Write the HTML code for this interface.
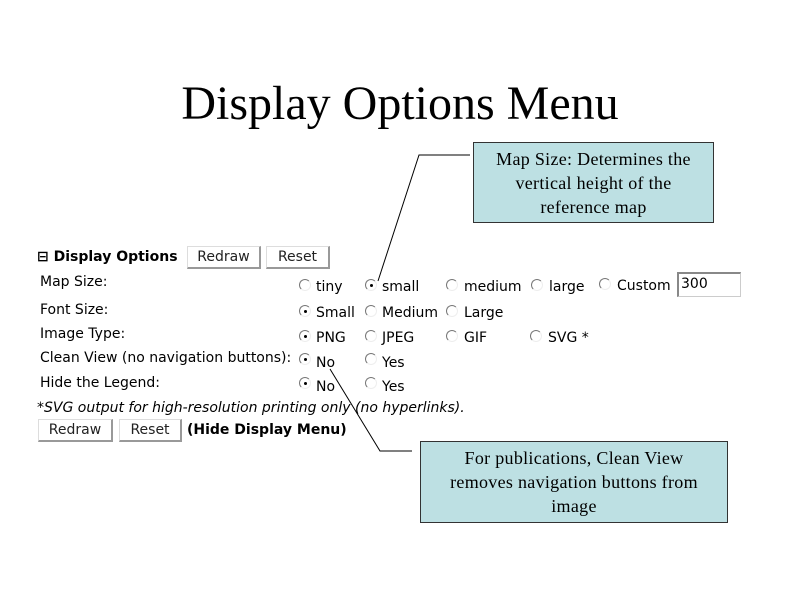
<!DOCTYPE html>
<html><head><meta charset="utf-8"><style>
body{margin:0;width:800px;height:600px;background:#fff;position:relative;overflow:hidden;font-family:"DejaVu Sans","Liberation Sans",sans-serif;font-size:14px;color:#000}
.a{position:absolute;white-space:nowrap;line-height:16px}
.t{position:absolute;left:0;width:800px;top:77px;text-align:center;font-family:"Liberation Serif",serif;font-size:48px;line-height:54px}
.btn{position:absolute;height:23px;background:#fff;border-right:2px solid #999;border-bottom:2px solid #999;border-top:1px solid #ddd;border-left:1px solid #ddd;box-sizing:border-box;text-align:center;line-height:20px;font-size:14px;color:#222}
.r{position:absolute;width:10px;height:10px;border-radius:50%;border:1.5px solid #777;border-right-color:#eee;border-bottom-color:#eee;box-sizing:content-box}
.r.c::after{content:"";position:absolute;left:3.5px;top:3.5px;width:3px;height:3px;border-radius:50%;background:#000}
.box{position:absolute;background:#bde0e3;border:1px solid #333;box-sizing:border-box;font-family:"Liberation Serif",serif;font-size:18px;letter-spacing:0.3px;line-height:24px;text-align:center;padding-top:4px;white-space:nowrap}
</style></head><body>
<div class="t">Display Options Menu</div>

<div class="box" style="left:473px;top:142px;width:241px;height:81px">Map Size: Determines the<br>vertical height of the<br>reference map</div>
<div class="box" style="left:420px;top:441px;width:308px;height:82px">For publications, Clean View<br>removes navigation buttons from<br>image</div>

<svg width="800" height="600" style="position:absolute;left:0;top:0" >
<polyline points="470,155 419,155 378,281" fill="none" stroke="#000" stroke-width="1"/>
<polyline points="412,451 380,451 330,369" fill="none" stroke="#000" stroke-width="1"/>
</svg>

<div class="a" style="left:37px;top:249px;font-weight:bold">⊟ Display Options</div>
<div class="btn" style="left:187px;top:246px;width:74px">Redraw</div>
<div class="btn" style="left:266px;top:246px;width:64px">Reset</div>

<div class="a" style="left:40px;top:274px">Map Size:</div>
<div class="a" style="left:40px;top:302px">Font Size:</div>
<div class="a" style="left:40px;top:326px">Image Type:</div>
<div class="a" style="left:40px;top:350px">Clean View (no navigation buttons):</div>
<div class="a" style="left:40px;top:375px">Hide the Legend:</div>

<div class="r" style="left:299px;top:279px"></div><div class="a" style="left:316px;top:279px">tiny</div>
<div class="r c" style="left:365px;top:279px"></div><div class="a" style="left:382px;top:279px">small</div>
<div class="r" style="left:446px;top:279px"></div><div class="a" style="left:464px;top:279px">medium</div>
<div class="r" style="left:531px;top:279px"></div><div class="a" style="left:549px;top:279px">large</div>
<div class="r" style="left:599px;top:278px"></div><div class="a" style="left:617px;top:278px">Custom</div>
<div style="position:absolute;left:677px;top:272px;width:64px;height:25px;border:1px solid #ccc;border-left:2px solid #888;border-top:2px solid #888;box-sizing:border-box;padding-left:2px;line-height:20px">300</div>

<div class="r c" style="left:299px;top:305px"></div><div class="a" style="left:316px;top:305px">Small</div>
<div class="r" style="left:365px;top:305px"></div><div class="a" style="left:382px;top:305px">Medium</div>
<div class="r" style="left:446px;top:305px"></div><div class="a" style="left:464px;top:305px">Large</div>

<div class="r c" style="left:299px;top:330px"></div><div class="a" style="left:316px;top:330px">PNG</div>
<div class="r" style="left:365px;top:330px"></div><div class="a" style="left:382px;top:330px">JPEG</div>
<div class="r" style="left:446px;top:330px"></div><div class="a" style="left:464px;top:330px">GIF</div>
<div class="r" style="left:530px;top:330px"></div><div class="a" style="left:548px;top:330px">SVG *</div>

<div class="r c" style="left:299px;top:353px"></div><div class="a" style="left:316px;top:355px">No</div>
<div class="r" style="left:365px;top:353px"></div><div class="a" style="left:382px;top:355px">Yes</div>

<div class="r c" style="left:299px;top:377px"></div><div class="a" style="left:316px;top:379px">No</div>
<div class="r" style="left:365px;top:377px"></div><div class="a" style="left:382px;top:379px">Yes</div>

<div class="a" style="left:37px;top:400px;font-style:italic">*SVG output for high-resolution printing only (no hyperlinks).</div>
<div class="btn" style="left:38px;top:419px;width:75px">Redraw</div>
<div class="btn" style="left:119px;top:419px;width:63px">Reset</div>
<div class="a" style="left:187px;top:422px;font-weight:bold">(Hide Display Menu)</div>
</body></html>
